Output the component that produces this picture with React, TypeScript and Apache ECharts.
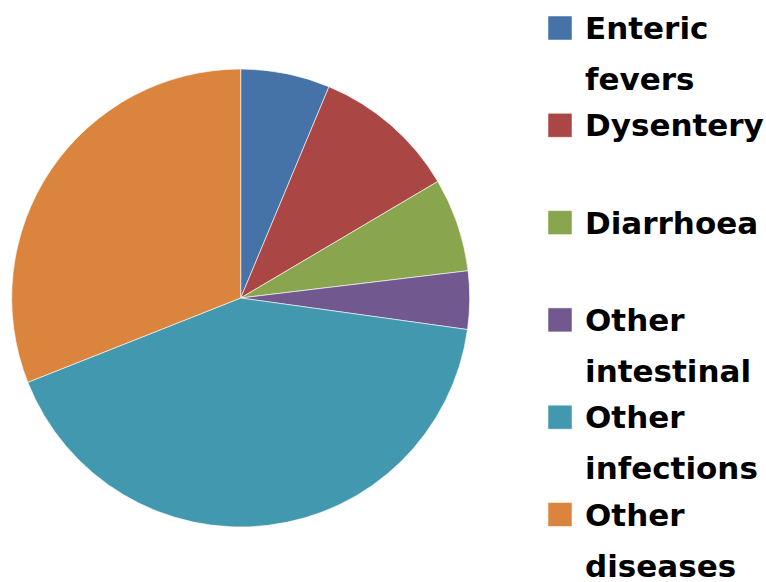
import React, { useEffect, useRef } from "react";
import * as echarts from "echarts";

const categories = [
  "Enteric fevers",
  "Dysentery",
  "Diarrhoea",
  "Other intestinal",
  "Other infections",
  "Other diseases",
];
const legendLabels = [
  "Enteric\nfevers",
  "Dysentery",
  "Diarrhoea",
  "Other\nintestinal",
  "Other\ninfections",
  "Other\ndiseases",
];
const values = [6.3, 10.2, 6.6, 4.1, 41.8, 31.0];
const colors = ["#4572A7", "#AA4643", "#89A54E", "#71588F", "#4198AF", "#DB843D"];

export default function App() {
  const ref = useRef<HTMLDivElement>(null);
  useEffect(() => {
    document.body.style.margin = "0";
    const chart = echarts.init(ref.current!, null, { renderer: "svg" });
    const legendGraphics: any[] = [];
    legendLabels.forEach((label, i) => {
      const cy = 28 + i * 97.3;
      legendGraphics.push({
        type: "rect",
        shape: { x: 548, y: cy - 12, width: 24, height: 24 },
        style: { fill: colors[i], stroke: "rgba(255,255,255,0.5)", lineWidth: 1 },
      });
      legendGraphics.push({
        type: "text",
        x: 585,
        y: cy - 25.5,
        style: {
          text: label,
          fill: "#000",
          font: "bold 31px 'DejaVu Sans'",
          lineHeight: 51,
          verticalAlign: "top",
          align: "left",
        },
      });
    });
    chart.setOption({
      animation: false,
      color: colors,
      series: [
        {
          type: "pie",
          center: [240.7, 298],
          radius: 229,
          startAngle: 90,
          clockwise: true,
          label: { show: false },
          labelLine: { show: false },
          itemStyle: { borderColor: "rgba(255,255,255,0.6)", borderWidth: 1 },
          emphasis: { disabled: true },
          data: categories.map((name, i) => ({ name, value: values[i] })),
        },
      ],
      graphic: legendGraphics,
    });
    return () => chart.dispose();
  }, []);
  return (
    <div
      ref={ref}
      style={{ position: "fixed", left: 0, top: 0, width: 766, height: 582, background: "#fff" }}
    />
  );
}
